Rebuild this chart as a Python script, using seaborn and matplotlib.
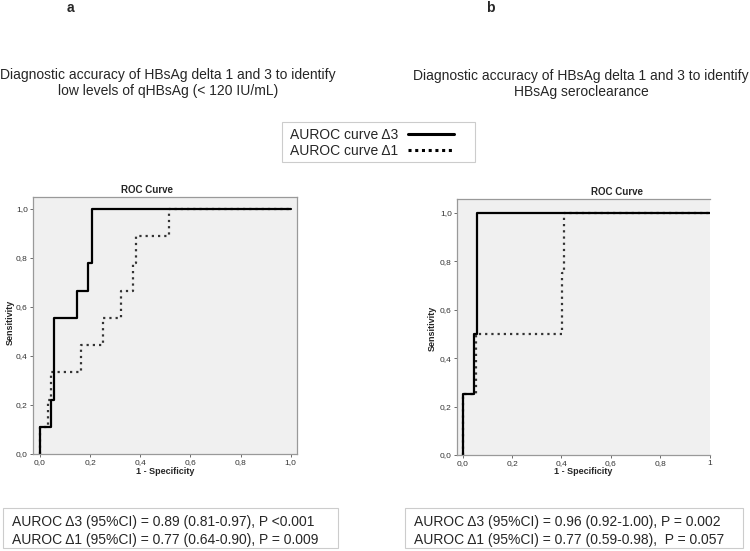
import matplotlib
matplotlib.use("Agg")
import matplotlib.pyplot as plt
from matplotlib.lines import Line2D
from matplotlib.patches import Rectangle
import seaborn as sns
import pandas as pd

# ---- data (ROC operating points) ----
a_d3_fpr = [0.0, 0.0, 0.044, 0.057, 0.149, 0.191, 0.207, 1.0]
a_d3_tpr = [0.0, 0.111, 0.222, 0.556, 0.667, 0.778, 1.0, 1.0]
a_d1_fpr = [0.0, 0.0, 0.031, 0.044, 0.164, 0.251, 0.324, 0.369, 0.384, 0.516, 1.0]
a_d1_tpr = [0.0, 0.111, 0.222, 0.333, 0.444, 0.556, 0.667, 0.778, 0.889, 1.0, 1.0]

b_d3_fpr = [0.0, 0.0, 0.045, 0.058, 1.0]
b_d3_tpr = [0.0, 0.25, 0.5, 1.0, 1.0]
b_d1_fpr = [0.0, 0.0, 0.054, 0.401, 0.411, 1.0]
b_d1_tpr = [0.0, 0.25, 0.5, 0.75, 1.0, 1.0]

tick_vals = [0.0, 0.2, 0.4, 0.6, 0.8, 1.0]
tick_labels = ["0,0", "0,2", "0,4", "0,6", "0,8", "1,0"]
b_xtick_labels = ["0,0", "0,2", "0,4", "0,6", "0,8", "1"]

legend_labels = ["AUROC curve \u03943", "AUROC curve \u03941"]
title_a = "Diagnostic accuracy of HBsAg delta 1 and 3 to identify\nlow levels of qHBsAg (< 120 IU/mL)"
title_b = "Diagnostic accuracy of HBsAg delta 1 and 3 to identify\nHBsAg seroclearance"
stats_a = ["AUROC \u03943 (95%CI) = 0.89 (0.81-0.97), P <0.001",
           "AUROC \u03941 (95%CI) = 0.77 (0.64-0.90), P = 0.009"]
stats_b = ["AUROC \u03943 (95%CI) = 0.96 (0.92-1.00), P = 0.002",
           "AUROC \u03941 (95%CI) = 0.77 (0.59-0.98),  P = 0.057"]

sns.set_style("white")
plt.rcParams['font.family'] = ['Liberation Sans', 'DejaVu Sans']

W, H = 750, 551
fig = plt.figure(figsize=(W / 100, H / 100), dpi=100)

def fx(px):
    return px / W

def fy(py):
    return 1 - py / H

SOLID_LW = 1.6
DOT_LS = (0, (1, 1.8))
DOT_LW = 1.6

def draw_panel(rect, xlim, ylim, d3, d1, xlabels, right_spine=True):
    ax = fig.add_axes(rect)
    ax.set_facecolor("#f0f0f0")
    df3 = pd.DataFrame({"fpr": d3[0], "tpr": d3[1]})
    df1 = pd.DataFrame({"fpr": d1[0], "tpr": d1[1]})
    sns.lineplot(data=df1, x="fpr", y="tpr", sort=False, estimator=None, ax=ax,
                 color="#333333", lw=DOT_LW, linestyle=DOT_LS, drawstyle="steps-post")
    sns.lineplot(data=df3, x="fpr", y="tpr", sort=False, estimator=None, ax=ax,
                 color="black", lw=SOLID_LW, drawstyle="steps-post")
    ax.set_xlim(*xlim)
    ax.set_ylim(*ylim)
    ax.set_xticks(tick_vals)
    ax.set_xticklabels(xlabels)
    ax.set_yticks(tick_vals)
    ax.set_yticklabels(tick_labels)
    ax.tick_params(axis="both", labelsize=6, length=2.5, width=0.6, color="#555555",
                   labelcolor="#333333", pad=1.2, direction="out")
    ax.tick_params(axis="x", bottom=True)
    ax.tick_params(axis="y", left=True)
    ax.set_xlabel("")
    ax.set_ylabel("")
    for name, sp in ax.spines.items():
        sp.set_color("#999999")
        sp.set_linewidth(0.9)
    if not right_spine:
        ax.spines["right"].set_visible(False)
    return ax

# panel a axes: x 33..297 px, y 197..454 px
ax_a = draw_panel([fx(33), fy(454), fx(297) - fx(33), fy(197) - fy(454)],
                  (-0.028, 1.025), (0.0, 1.049),
                  (a_d3_fpr, a_d3_tpr), (a_d1_fpr, a_d1_tpr), tick_labels)
# panel b axes: x 457..710 px, y 199..455 px
ax_b = draw_panel([fx(457), fy(455), fx(710) - fx(457), fy(199) - fy(455)],
                  (-0.023, 1.002), (0.0, 1.057),
                  (b_d3_fpr, b_d3_tpr), (b_d1_fpr, b_d1_tpr), b_xtick_labels,
                  right_spine=False)

# axis titles / labels
fig.text(fx(147), fy(190), "ROC Curve", ha="center", va="center", fontsize=7, fontweight="bold")
fig.text(fx(617), fy(192), "ROC Curve", ha="center", va="center", fontsize=7, fontweight="bold")
fig.text(fx(165), fy(471), "1 - Specificity", ha="center", va="center", fontsize=6.5, fontweight="bold")
fig.text(fx(583), fy(472), "1 - Specificity", ha="center", va="center", fontsize=6.5, fontweight="bold")
fig.text(fx(10), fy(322), "Sensitivity", ha="center", va="center", rotation=90, fontsize=6.5, fontweight="bold")
fig.text(fx(432), fy(328), "Sensitivity", ha="center", va="center", rotation=90, fontsize=6.5, fontweight="bold")

# panel letters
fig.text(fx(70), fy(8), "a", ha="center", va="center", fontsize=10, fontweight="bold")
fig.text(fx(490), fy(8), "b", ha="center", va="center", fontsize=10, fontweight="bold")

# panel titles
fig.text(fx(168), fy(83), title_a, ha="center", va="center", fontsize=10, linespacing=1.15)
fig.text(fx(581), fy(84), title_b, ha="center", va="center", fontsize=10, linespacing=1.15)

# legend (box drawn separately to match the reference's width)
fig.patches.append(Rectangle((fx(282), fy(162)), fx(475) - fx(282), fy(122) - fy(162),
                             transform=fig.transFigure, facecolor="white",
                             edgecolor="#cccccc", lw=0.8))
handles = [Line2D([], [], color="black", lw=2.2),
           Line2D([], [], color="black", lw=2.2, linestyle=(0, (1, 1.2)))]
leg = fig.legend(handles, legend_labels, loc="center left",
                 bbox_to_anchor=(fx(286), fy(143)), markerfirst=False,
                 fontsize=10, frameon=False,
                 handlelength=3.3, handletextpad=0.7, borderpad=0.3,
                 labelspacing=0.15, borderaxespad=0)

# statistics boxes
def stats_box(x0, x1, y0, y1, tx, lines):
    fig.patches.append(Rectangle((fx(x0), fy(y1)), fx(x1) - fx(x0), fy(y0) - fy(y1),
                                 transform=fig.transFigure, facecolor="white",
                                 edgecolor="#cccccc", lw=0.8))
    fig.text(fx(tx), fy(522), lines[0], ha="left", va="center", fontsize=10)
    fig.text(fx(tx), fy(540), lines[1], ha="left", va="center", fontsize=10)

stats_box(3, 338, 508, 548, 12, stats_a)
stats_box(405, 743, 508, 548, 414, stats_b)

fig.savefig("out.png", dpi=100)
